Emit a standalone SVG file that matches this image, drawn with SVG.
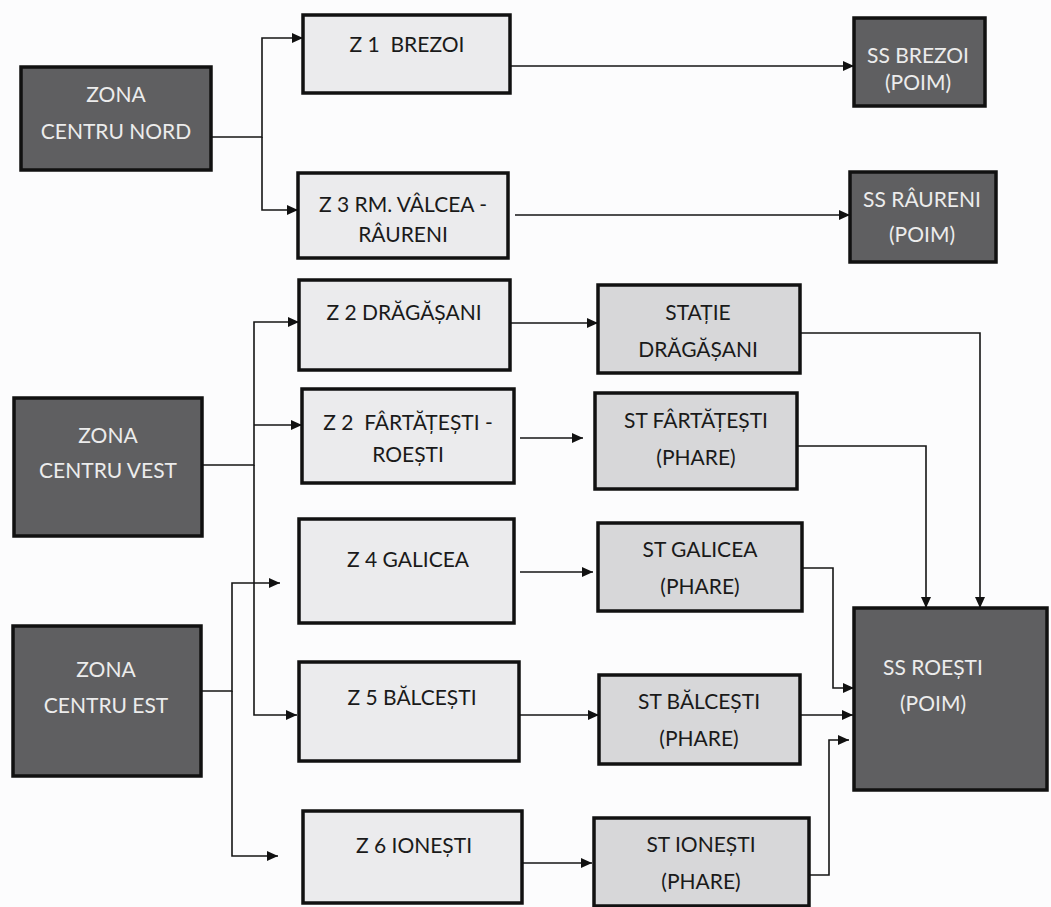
<svg xmlns="http://www.w3.org/2000/svg" width="1051" height="907" viewBox="0 0 1051 907">
<defs>
<marker id="arr" markerWidth="11" markerHeight="10" refX="11" refY="5" orient="auto" markerUnits="userSpaceOnUse">
<path d="M0,0 L11,5 L0,10 z" fill="#111"/>
</marker>
<style>
.dark{fill:#5f5f61;stroke:#111;stroke-width:3.5}
.light{fill:#ebebed;stroke:#111;stroke-width:3.5}
.mid{fill:#d7d7d9;stroke:#111;stroke-width:3.5}
text{font-family:Lato,"Open Sans","Liberation Sans",sans-serif;font-size:21px;text-anchor:middle}
.wt{fill:#ececec}
.bt{fill:#1a1a1a}
.conn path{fill:none;stroke:#151515;stroke-width:1.6}
.conn path.a{marker-end:url(#arr)}
</style>
</defs>
<rect width="1051" height="907" fill="#fcfcfd"/>
<g class="conn" id="connectors">
<path class="a" d="M211,137 H262 V38 H303"/>
<path class="a" d="M262,137 V210 H298"/>
<path class="a" d="M511,66 H854"/>
<path class="a" d="M515,215 H850"/>
<path class="a" d="M202,465 H254 V322 H299"/>
<path class="a" d="M254,425 H302"/>
<path class="a" d="M254,465 V715 H297"/>
<path class="a" d="M201,691 H232 V583 H280"/>
<path class="a" d="M232,691 V856 H278"/>
<path class="a" d="M510,323 H598"/>
<path class="a" d="M520,438 H583"/>
<path class="a" d="M520,572 H593"/>
<path class="a" d="M519,715 H599"/>
<path class="a" d="M522,863 H592"/>
<path class="a" d="M800,333 H980 V608"/>
<path class="a" d="M797,446 H926 V608"/>
<path class="a" d="M802,568 H833 V688 H854"/>
<path class="a" d="M800,715 H853"/>
<path class="a" d="M809,875 H829 V740 H849"/>
</g>
<g id="zona-nord"><rect class="dark" x="21" y="67" width="190" height="103"/><text class="wt" x="116" y="102">ZONA</text><text class="wt" x="116" y="139">CENTRU NORD</text></g>
<g id="zona-vest"><rect class="dark" x="14" y="398" width="188" height="138"/><text class="wt" x="108" y="443">ZONA</text><text class="wt" x="108" y="478">CENTRU VEST</text></g>
<g id="zona-est"><rect class="dark" x="13" y="626" width="188" height="150"/><text class="wt" x="106" y="677">ZONA</text><text class="wt" x="106" y="713">CENTRU EST</text></g>
<g id="z1"><rect class="light" x="303" y="15" width="207" height="78"/><text class="bt" x="407" y="52" xml:space="preserve">Z 1  BREZOI</text></g>
<g id="z3"><rect class="light" x="298" y="173" width="210" height="85"/><text class="bt" x="403" y="212">Z 3 RM. VÂLCEA -</text><text class="bt" x="403" y="242">RÂURENI</text></g>
<g id="z2d"><rect class="light" x="299" y="280" width="211" height="90"/><text class="bt" x="404" y="320">Z 2 DRĂGĂȘANI</text></g>
<g id="z2f"><rect class="light" x="302" y="389" width="212" height="94"/><text class="bt" x="408" y="430" xml:space="preserve">Z 2  FÂRTĂȚEȘTI -</text><text class="bt" x="408" y="462">ROEȘTI</text></g>
<g id="z4"><rect class="light" x="299" y="519" width="215" height="104"/><text class="bt" x="408" y="567">Z 4 GALICEA</text></g>
<g id="z5"><rect class="light" x="299" y="662" width="220" height="99"/><text class="bt" x="412" y="705">Z 5 BĂLCEȘTI</text></g>
<g id="z6"><rect class="light" x="303" y="811" width="219" height="92"/><text class="bt" x="414" y="853">Z 6 IONEȘTI</text></g>
<g id="st-dragasani"><rect class="mid" x="598" y="285" width="202" height="88"/><text class="bt" x="698" y="320">STAȚIE</text><text class="bt" x="698" y="357">DRĂGĂȘANI</text></g>
<g id="st-fartatesti"><rect class="mid" x="595" y="393" width="202" height="96"/><text class="bt" x="696" y="428">ST FÂRTĂȚEȘTI</text><text class="bt" x="696" y="465">(PHARE)</text></g>
<g id="st-galicea"><rect class="mid" x="598" y="523" width="204" height="88"/><text class="bt" x="700" y="557">ST GALICEA</text><text class="bt" x="700" y="594">(PHARE)</text></g>
<g id="st-balcesti"><rect class="mid" x="599" y="675" width="201" height="89"/><text class="bt" x="699" y="709">ST BĂLCEȘTI</text><text class="bt" x="699" y="746">(PHARE)</text></g>
<g id="st-ionesti"><rect class="mid" x="594" y="818" width="215" height="88"/><text class="bt" x="701" y="852">ST IONEȘTI</text><text class="bt" x="701" y="889">(PHARE)</text></g>
<g id="ss-brezoi"><rect class="dark" x="854" y="18" width="131" height="88"/><text class="wt" x="918" y="63">SS BREZOI</text><text class="wt" x="918" y="90">(POIM)</text></g>
<g id="ss-raureni"><rect class="dark" x="850" y="172" width="146" height="90"/><text class="wt" x="922" y="207">SS RÂURENI</text><text class="wt" x="922" y="242">(POIM)</text></g>
<g id="ss-roesti"><rect class="dark" x="854" y="608" width="193" height="182"/><text class="wt" x="933" y="675">SS ROEȘTI</text><text class="wt" x="933" y="711">(POIM)</text></g>
</svg>
